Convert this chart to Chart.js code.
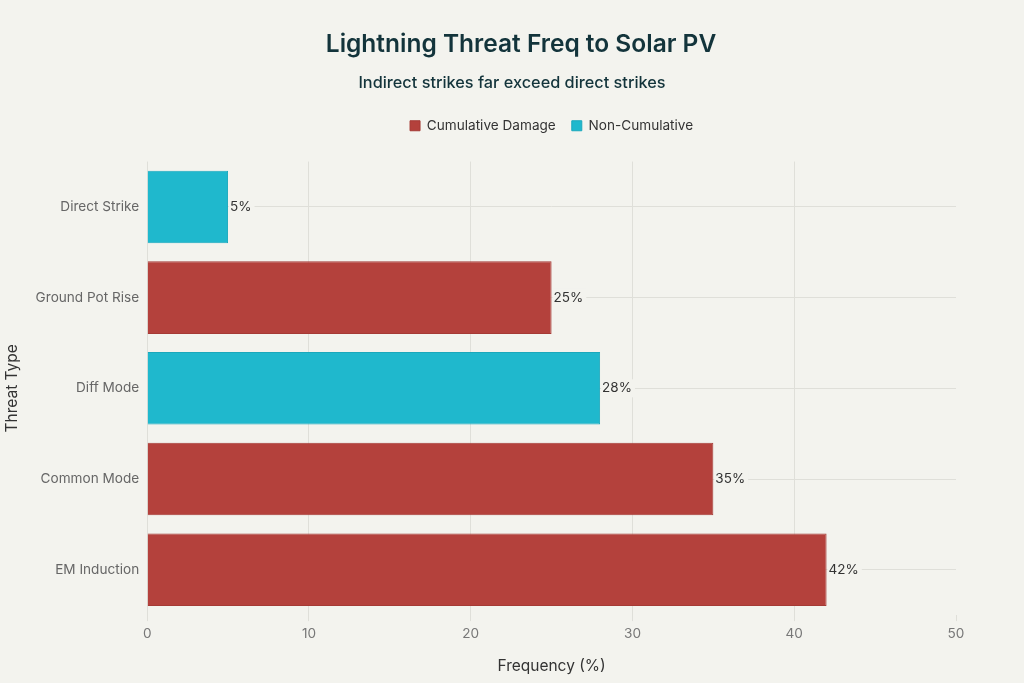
<!DOCTYPE html>
<html>
<head>
<meta charset="utf-8">
<script src="https://cdn.jsdelivr.net/npm/chart.js@4"></script>
<style>
html,body{margin:0;padding:0;background:#f3f3ee;}
#wrap{width:1024px;height:683px;position:relative;}
</style>
</head>
<body>
<div id="wrap"><canvas id="c" width="1024" height="683"></canvas></div>
<script>
const categories = ["Direct Strike", "Ground Pot Rise", "Diff Mode", "Common Mode", "EM Induction"];
const cumulativeValues = [null, 25, null, 35, 42];
const nonCumulativeValues = [5, null, 28, null, null];
const seriesNames = ["Cumulative Damage", "Non-Cumulative"];
const xTicks = [0, 10, 20, 30, 40, 50];

const FONT = "Inter, 'Open Sans', 'DejaVu Sans', sans-serif";
const BG = "#f3f3ee";
const GRID = "#dfdfd9";

const valueLabels = {
  id: 'valueLabels',
  afterDatasetsDraw(chart) {
    const ctx = chart.ctx;
    ctx.save();
    ctx.font = "13.5px " + FONT;
    ctx.textBaseline = "middle";
    ctx.textAlign = "left";
    chart.data.datasets.forEach((ds, di) => {
      const meta = chart.getDatasetMeta(di);
      meta.data.forEach((el, i) => {
        const v = ds.data[i];
        if (v === null || v === undefined) return;
        const t = v + "%";
        const w = ctx.measureText(t).width;
        ctx.fillStyle = BG;
        ctx.fillRect(el.x + 1, el.y - 9, w + 4, 18);
        ctx.fillStyle = "#333333";
        ctx.fillText(t, el.x + 2, el.y);
      });
    });
    ctx.restore();
  }
};

const bg = {
  id: 'bg',
  beforeDraw(chart) {
    const ctx = chart.ctx;
    ctx.save();
    ctx.fillStyle = BG;
    ctx.fillRect(0, 0, chart.width, chart.height);
    ctx.restore();
  }
};

const layoutTweaks = {
  id: 'layoutTweaks',
  beforeInit(chart) {
    const origFit = chart.legend.fit;
    chart.legend.fit = function () {
      origFit.bind(chart.legend)();
      this.height += 19;
    };
  },
  afterLayout(chart) {
    if (chart.titleBlock) {
      chart.titleBlock.left += 18;
    }
  }
};

new Chart(document.getElementById('c'), {
  type: 'bar',
  data: {
    labels: categories,
    datasets: [
      {
        label: seriesNames[0],
        data: cumulativeValues,
        backgroundColor: "#b4413c",
        borderColor: "#a53a35",
        borderWidth: 1,
        grouped: false,
        barPercentage: 0.8,
        categoryPercentage: 1.0
      },
      {
        label: seriesNames[1],
        data: nonCumulativeValues,
        backgroundColor: "#1fb8cd",
        borderColor: "#1aa8bc",
        borderWidth: 1,
        grouped: false,
        barPercentage: 0.8,
        categoryPercentage: 1.0
      }
    ]
  },
  options: {
    indexAxis: 'y',
    responsive: false,
    animation: false,
    devicePixelRatio: 1,
    layout: { padding: { left: 0, right: 0, top: 22, bottom: 7 } },
    plugins: {
      title: {
        display: true,
        text: "Lightning Threat Freq to Solar PV",
        color: "#13343b",
        font: { family: FONT, size: 24.5, weight: '600' },
        padding: { top: 8, bottom: 10 }
      },
      subtitle: {
        display: true,
        text: "Indirect strikes far exceed direct strikes",
        color: "#13343b",
        font: { family: FONT, size: 16.3, weight: '500' },
        padding: { top: 4, bottom: 10 }
      },
      legend: {
        display: true,
        position: 'top',
        fullSize: false,
        labels: {
          color: "#333333",
          font: { family: FONT, size: 13.6 },
          boxWidth: 10,
          boxHeight: 10,
          padding: 16,
          useBorderRadius: false
        }
      },
      tooltip: { enabled: false }
    },
    scales: {
      x: {
        type: 'linear',
        min: 0,
        max: 50,
        afterBuildTicks(axis) { axis.ticks = xTicks.map(v => ({ value: v })); },
        afterFit(scale) { scale.paddingRight = 68; },
        grid: {
          color: (c) => (c.tick && c.tick.value === 50) ? 'rgba(0,0,0,0)' : GRID,
          tickColor: GRID,
          drawTicks: true,
          tickLength: 6
        },
        border: { display: false },
        ticks: { color: "#777777", font: { family: FONT, size: 13.6 }, padding: 5 },
        title: {
          display: true,
          text: "Frequency (%)",
          color: "#333333",
          font: { family: FONT, size: 15.5 },
          padding: { top: 10, bottom: 0 }
        }
      },
      y: {
        grid: { color: GRID, drawTicks: false, offset: false },
        border: { display: false },
        ticks: { color: "#666666", font: { family: FONT, size: 13.6 }, padding: 8 },
        title: {
          display: true,
          text: "Threat Type",
          color: "#333333",
          font: { family: FONT, size: 15.5 },
          padding: { top: 3, bottom: 6 }
        }
      }
    }
  },
  plugins: [bg, layoutTweaks, valueLabels]
});
</script>
</body>
</html>
